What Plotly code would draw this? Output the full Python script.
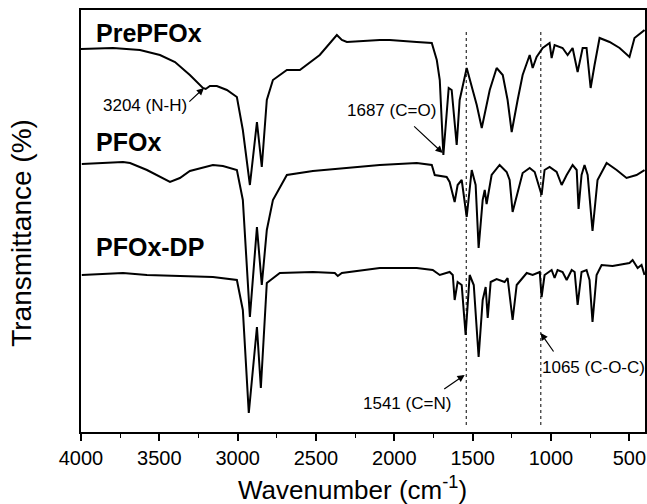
import plotly.graph_objects as go

# Wavenumber (cm-1) and transmittance (arbitrary offset units)
pre_wn = [4000, 3796, 3624, 3496, 3400, 3305, 3222, 3204, 3177, 3133, 3069, 3005, 2967, 2922,
          2877, 2846, 2814, 2775, 2686, 2603, 2476, 2367, 2335, 2303, 2093, 2029, 1857, 1761,
          1729, 1710, 1687, 1653, 1634, 1602, 1583, 1564, 1538, 1500, 1474, 1442, 1391, 1347,
          1308, 1277, 1251, 1213, 1181, 1136, 1117, 1092, 1053, 1009, 996, 977, 926, 894, 862,
          830, 798, 773, 747, 722, 690, 626, 562, 499, 467, 403]
pre_t = [383, 384, 382, 377, 370, 357, 344, 343, 346, 346, 342, 335, 302, 247,
         310, 265, 332, 352, 362, 362, 377, 397, 392, 390, 392, 392, 390, 389,
         372, 352, 277, 344, 342, 287, 332, 347, 364, 342, 327, 304, 342, 364,
         357, 332, 300, 332, 357, 377, 364, 375, 384, 389, 374, 387, 384, 377, 384,
         360, 384, 384, 344, 367, 394, 390, 384, 375, 394, 402]

pfox_wn = [3995, 3732, 3687, 3579, 3432, 3369, 3305, 3158, 3094, 3005, 2967, 2922, 2877, 2846,
           2814, 2775, 2686, 2520, 2093, 1857, 1761, 1742, 1666, 1647, 1615, 1596, 1570, 1538,
           1506, 1481, 1462, 1436, 1423, 1411, 1379, 1328, 1283, 1264, 1245, 1219, 1181, 1136,
           1104, 1060, 1041, 1009, 964, 932, 900, 862, 836, 824, 805, 786, 766, 735, 703, 645,
           581, 518, 454, 403]
pfox_t = [268, 270, 269, 262, 250, 254, 261, 267, 266, 262, 232, 115, 205, 147,
          202, 232, 257, 261, 267, 269, 267, 257, 255, 250, 230, 247, 252, 215,
          262, 247, 184, 232, 242, 228, 257, 267, 260, 252, 220, 237, 259, 264,
          260, 237, 262, 265, 260, 247, 257, 267, 262, 223, 257, 267, 257, 201, 252, 269,
          262, 254, 257, 262]

dp_wn = [3995, 3732, 3579, 3158, 3005, 2967, 2929, 2877, 2852, 2814, 2731, 2520, 2380, 2361,
         2335, 2093, 1857, 1755, 1710, 1647, 1627, 1615, 1596, 1570, 1545, 1519, 1493, 1462,
         1436, 1417, 1404, 1385, 1347, 1296, 1277, 1245, 1219, 1155, 1117, 1072, 1060, 1041,
         996, 977, 958, 926, 900, 868, 849, 830, 805, 773, 754, 735, 709, 677, 607, 562, 499,
         479, 447, 422, 403]
dp_t = [157, 159, 157, 155, 152, 122, 19, 105, 44, 149, 159, 160, 159, 156,
        159, 164, 164, 162, 157, 160, 157, 132, 150, 147, 97, 157, 147, 75,
        132, 145, 114, 150, 153, 150, 154, 112, 147, 159, 157, 160, 135, 157,
        162, 154, 162, 160, 152, 162, 160, 127, 160, 162, 152, 110, 157, 167, 166, 167, 169,
        172, 164, 167, 157]

x_ticks = [4000, 3500, 3000, 2500, 2000, 1500, 1000, 500]
marker_lines = [1541, 1065]

series_labels = [("PrePFOx", 3920, 399), ("PFOx", 3920, 290), ("PFOx-DP", 3920, 185)]

band_notes = [
    # text, text_x, text_y, head_x, head_y, tail_x, tail_y
    ("3204 (N-H)", 3590, 327, 3215, 344, 3318, 329),
    ("1687 (C=O)", 2020, 322, 1691, 279, 1883, 307),
    ("1541 (C=N)", 1921, 29, 1551, 57, 1691, 42),
    ("1065 (C-O-C)", 728, 65, 1066, 99, 977, 79),
]

FONT = "Liberation Sans, Arial, sans-serif"

fig = go.Figure()
for wn, t in [(pre_wn, pre_t), (pfox_wn, pfox_t), (dp_wn, dp_t)]:
    fig.add_trace(go.Scatter(x=wn, y=t, mode="lines",
                             line=dict(color="black", width=2), showlegend=False,
                             hoverinfo="skip"))

for wn in marker_lines:
    fig.add_trace(go.Scatter(x=[wn, wn], y=[7, 402], mode="lines",
                             line=dict(color="black", width=1, dash="dot"),
                             showlegend=False, hoverinfo="skip"))

annotations = []
for name, xv, yv in series_labels:
    annotations.append(dict(x=xv, y=yv, xref="x", yref="y", text="<b>%s</b>" % name,
                            showarrow=False, xanchor="left", yanchor="middle",
                            font=dict(family=FONT, size=25, color="black")))
for text, tx, ty, hx, hy, ax, ay in band_notes:
    annotations.append(dict(x=tx, y=ty, xref="x", yref="y", text=text, showarrow=False,
                            font=dict(family=FONT, size=17, color="black")))
    annotations.append(dict(x=hx, y=hy, ax=ax, ay=ay, xref="x", yref="y", axref="x", ayref="y",
                            text="", showarrow=True, arrowhead=2, arrowsize=1.2,
                            arrowwidth=1.2, arrowcolor="black"))

# axis titles
annotations.append(dict(x=0.4805, y=0, xref="paper", yref="paper", yshift=-56,
                        text="Wavenumber (cm<sup>-1</sup>)", showarrow=False,
                        xanchor="center", yanchor="middle",
                        font=dict(family=FONT, size=26, color="black")))
annotations.append(dict(x=0, y=0.472, xref="paper", yref="paper", xshift=-59,
                        text="Transmittance (%)", showarrow=False, textangle=-90,
                        xanchor="center", yanchor="middle",
                        font=dict(family=FONT, size=28, color="black")))

fig.update_layout(
    width=647, height=504,
    margin=dict(l=81, r=2, t=10, b=72, autoexpand=False),
    paper_bgcolor="white", plot_bgcolor="white",
    annotations=annotations,
    font=dict(family=FONT, color="black"),
    xaxis=dict(range=[4000, 400], tickvals=x_ticks, ticktext=[str(v) for v in x_ticks],
               ticks="outside", ticklen=7, tickwidth=1.5, tickcolor="black",
               minor=dict(dtick=250, tick0=0, ticks="outside", ticklen=4, tickwidth=1.2,
                          tickcolor="black"),
               showline=True, linecolor="black", linewidth=1.5, mirror=True,
               showgrid=False, zeroline=False, automargin=False,
               tickfont=dict(family=FONT, size=20)),
    yaxis=dict(range=[0, 422], showticklabels=False, ticks="",
               showline=True, linecolor="black", linewidth=1.5, mirror=True,
               showgrid=False, zeroline=False, automargin=False),
)

fig.write_html("out.html", config={"displayModeBar": False},
               post_script="document.body.style.margin='0px';"
                           "document.body.style.overflow='hidden';")
